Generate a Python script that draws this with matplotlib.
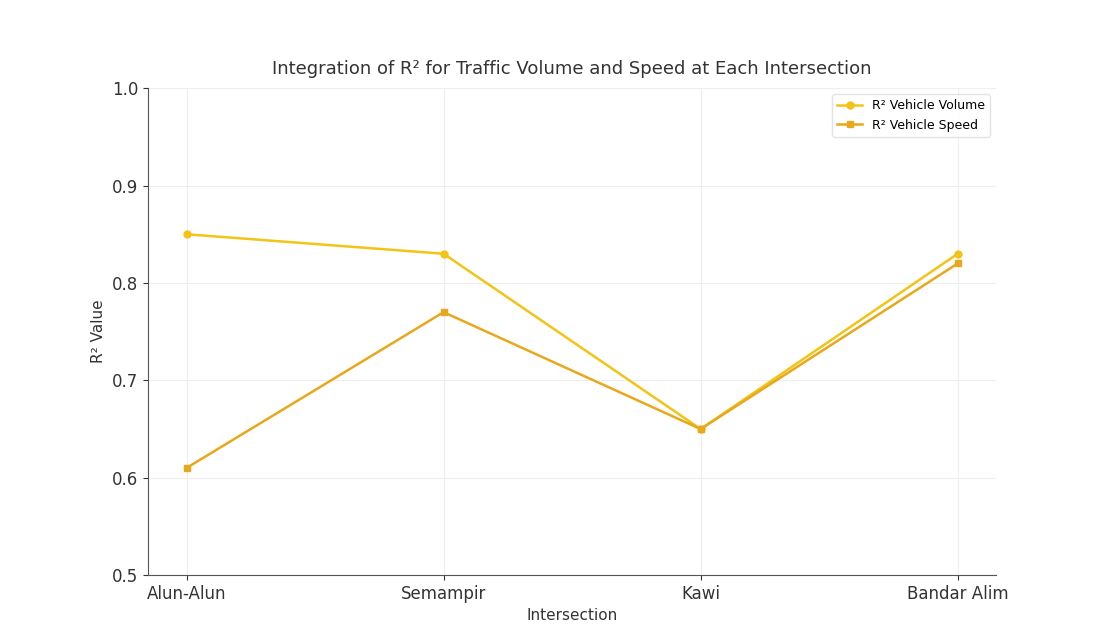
import matplotlib.pyplot as plt

# R² values per intersection
intersections = ["Alun-Alun", "Semampir", "Kawi", "Bandar Alim"]
r2_volume = [0.85, 0.83, 0.65, 0.83]
r2_speed = [0.61, 0.77, 0.65, 0.82]

fig = plt.figure(figsize=(10.96, 6.39), dpi=100)
ax = fig.add_axes([0.135, 0.100, 0.774, 0.762])

x = range(len(intersections))
ax.plot(x, r2_volume, marker='o', markersize=5, color='#f2c418', linewidth=1.8,
        label='R² Vehicle Volume')
ax.plot(x, r2_speed, marker='s', markersize=5, color='#e8a81c', linewidth=1.8,
        label='R² Vehicle Speed')

ax.set_title("Integration of R² for Traffic Volume and Speed at Each Intersection",
             fontsize=13, color='#333333', pad=10)
ax.set_xlabel("Intersection", fontsize=11, color='#333333')
ax.set_ylabel("R² Value", fontsize=11, color='#333333')
ax.set_xticks(list(x))
ax.set_xticklabels(intersections)
ax.set_ylim(0.5, 1.0)
ax.set_yticks([0.5, 0.6, 0.7, 0.8, 0.9, 1.0])
ax.tick_params(labelsize=12, colors='#333333')
ax.grid(True, color='#eeeeee', linewidth=0.8)
ax.spines['top'].set_visible(False)
ax.spines['right'].set_visible(False)
ax.spines['left'].set_color('#555555')
ax.spines['bottom'].set_color('#555555')

ax.legend(loc='upper right', fontsize=9, frameon=True, edgecolor='#dddddd')

fig.savefig("out.png", dpi=100)
